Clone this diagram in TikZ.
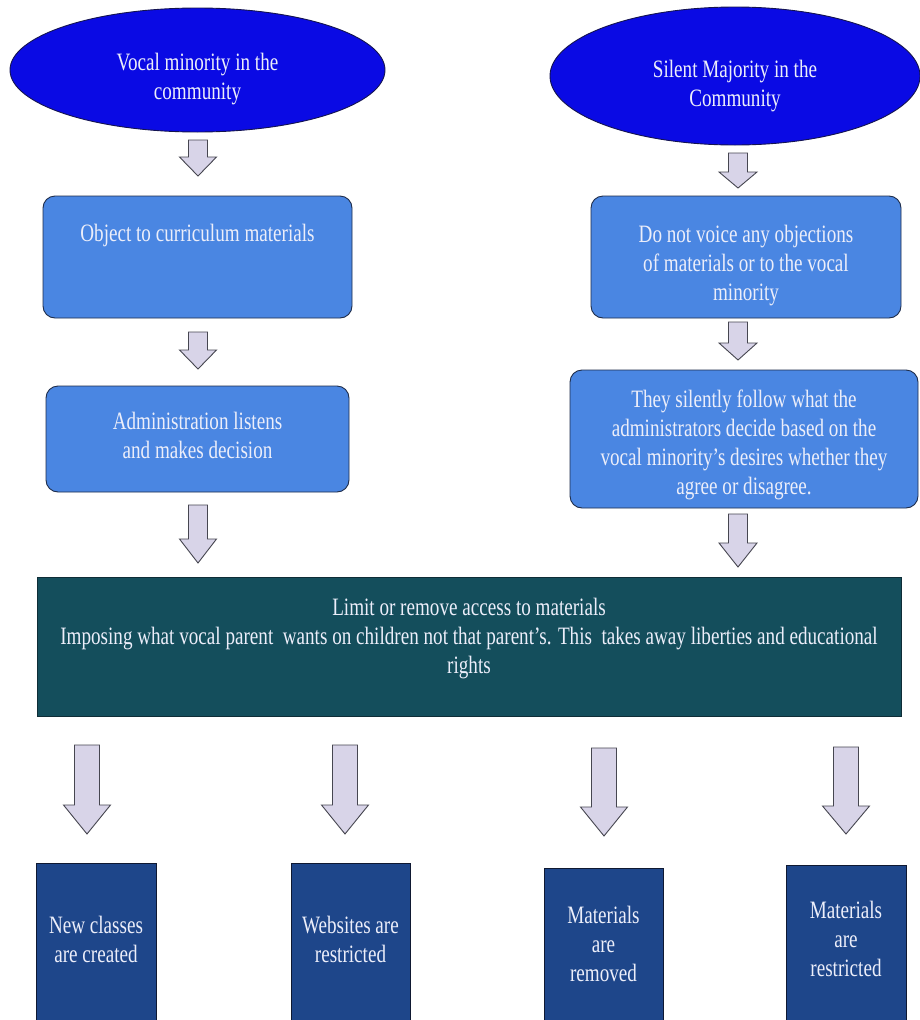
\documentclass[tikz,border=0pt]{standalone}
\usepackage{fontspec}
\usepackage{graphicx}
\setmainfont{Liberation Serif}
\usetikzlibrary{shapes.geometric}

\definecolor{ovalblue}{RGB}{10,10,228}
\definecolor{ovalline}{RGB}{20,20,80}
\definecolor{stepblue}{RGB}{74,134,226}
\definecolor{stepline}{RGB}{30,45,75}
\definecolor{tealfill}{RGB}{20,78,92}
\definecolor{tealline}{RGB}{15,45,55}
\definecolor{navyfill}{RGB}{30,70,138}
\definecolor{navyline}{RGB}{15,25,50}
\definecolor{arrowfill}{RGB}{216,212,232}
\definecolor{arrowline}{RGB}{70,70,80}
\definecolor{paletext}{RGB}{236,238,250}

% centred lines of narrow text, moved up (positive) or down (negative) inside their shape
\newcommand\lines[2]{\raisebox{#1pt}[\height][\depth]{\scalebox{0.765}[1]{\begin{tabular}{@{}c@{}}#2\end{tabular}}}}
% downward block arrow: x, top, tip, start of head, half shaft width, half head width
\newcommand\blockdown[6]{%
  \draw[blockarrow] (#1-#5,#2) -- (#1+#5,#2) -- (#1+#5,#4) -- (#1+#6,#4)
    -- (#1,#3) -- (#1-#6,#4) -- (#1-#5,#4) -- cycle;}

\begin{document}
\begin{tikzpicture}[x=1pt,y=-1pt,
  every node/.style={text=paletext, font=\rmfamily\fontsize{25}{29}\selectfont, inner sep=0pt},
  oval/.style={ellipse, fill=ovalblue, draw=ovalline, line width=0.9pt},
  stepbox/.style={rectangle, rounded corners=12pt, fill=stepblue, draw=stepline, line width=0.9pt},
  bannerbox/.style={rectangle, fill=tealfill, draw=tealline, line width=0.9pt},
  outcomebox/.style={rectangle, fill=navyfill, draw=navyline, line width=0.9pt},
  blockarrow/.style={fill=arrowfill, draw=arrowline, line width=0.9pt, line join=miter}]
\useasboundingbox (0,0) rectangle (920,1020);
\clip (0,0) rectangle (920,1020);
\fill[white] (0,0) rectangle (920,1020);

% the two groups
\node[oval, minimum width=375pt, minimum height=124pt] (vocal) at (197.5,70)
  {\lines{-8.7}{Vocal minority in the\\community}};
\node[oval, minimum width=370pt, minimum height=138pt] (silent) at (735,76)
  {\lines{-9.7}{Silent Majority in the\\Community}};

% left column
\node[stepbox, minimum width=309pt, minimum height=122pt] (object) at (197.5,257)
  {\lines{21.8}{Object to curriculum materials}};
\node[stepbox, minimum width=303pt, minimum height=106pt] (admin) at (197.5,439)
  {\lines{1.3}{Administration listens\\and makes decision}};

% right column
\node[stepbox, minimum width=310pt, minimum height=122pt] (novoice) at (746,257)
  {\lines{-8.2}{Do not voice any objections\\of materials or to the vocal\\minority}};
\node[stepbox, minimum width=348pt, minimum height=138pt] (follow) at (744,439)
  {\lines{-5.7}{They silently follow what the\\administrators decide based on the\\vocal minority’s desires whether they\\agree or disagree.}};

% shared result
\node[bannerbox, minimum width=864pt, minimum height=139pt] (limit) at (469,646.5)
  {\lines{8.3}{Limit or remove access to materials\\Imposing what vocal parent~ wants on children not that parent’s. This~ takes away liberties and educational\\rights}};

% outcomes
\node[outcomebox, minimum width=120pt, minimum height=158pt] (classes) at (96,942)
  {\lines{0}{New classes\\are created}};
\node[outcomebox, minimum width=119pt, minimum height=158pt] (websites) at (350.5,942)
  {\lines{0}{Websites are\\restricted}};
\node[outcomebox, minimum width=119pt, minimum height=153pt] (removed) at (603.5,944.5)
  {\lines{-1.7}{Materials\\are\\removed}};
\node[outcomebox, minimum width=120pt, minimum height=156pt] (restricted) at (846,943)
  {\lines{1.8}{Materials\\are\\restricted}};

% arrows, left column
\blockdown{198}{140}{176}{157}{9.5}{18.5}
\blockdown{198}{332}{369}{350}{9.5}{18.5}
\blockdown{198}{505}{563}{539}{9.5}{18.5}
% arrows, right column
\blockdown{738}{153}{188}{172}{9.5}{19}
\blockdown{738}{322}{360}{343}{9.5}{19}
\blockdown{738}{514}{567}{543}{9.5}{19}
% arrows to the outcomes
\blockdown{87}{745}{834}{805}{12.5}{23.5}
\blockdown{345}{745}{834}{805}{12.5}{23.5}
\blockdown{604}{748}{836}{807}{12.5}{23.5}
\blockdown{846}{747}{834}{806}{12.5}{23.5}
\end{tikzpicture}
\end{document}
